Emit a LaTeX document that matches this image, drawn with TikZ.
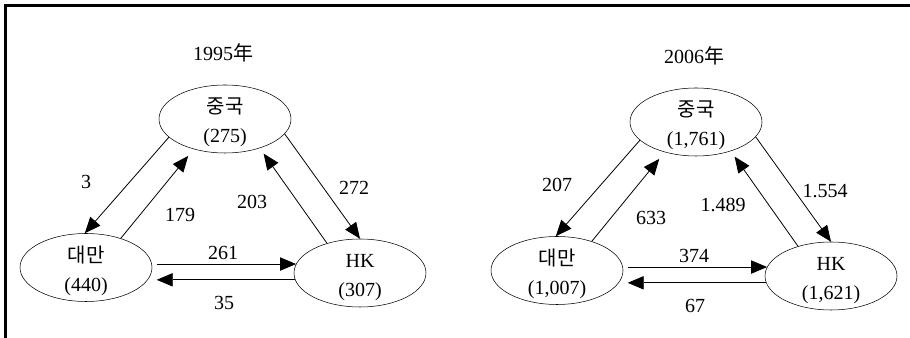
\documentclass[tikz,border=0pt]{standalone}
\usepackage{fontspec}
\setmainfont{Liberation Serif}
\newfontfamily\cjk{Noto Sans CJK KR}
\usetikzlibrary{shapes,arrows.meta}
\tikzset{
  country/.style={draw, ellipse, minimum width=99pt, minimum height=51pt, inner xsep=0pt, inner ysep=-3pt, align=center, font=\fontsize{15}{21.5}\selectfont},
  flow/.style={-{Triangle[length=12pt,width=10pt]}, line width=0.6pt},
  num/.style={font=\fontsize{15}{18}\selectfont}
}

\begin{document}
\begin{tikzpicture}[x=0.75pt,y=0.75pt]
\useasboundingbox (0,0) rectangle (910,338);

% Frame
\draw[line width=1.6pt] (5.5,0) -- (5.5,332.5) -- (915,332.5);

% 1995
\begin{scope}
\node[num] (yrA) at (223,285) {1995{\cjk 年}};
\node[country] (cnA) at (225,219) {{\cjk 중국}\rule{0pt}{17pt}\\(275)};
\node[country] (twA) at (86,70.5) {{\cjk 대만}\rule{0pt}{17pt}\\(440)};
\node[country] (hkA) at (360,65) {HK\rule{0pt}{17pt}\\(307)};

\draw[flow] (cnA.198) -- (twA.92);
\draw[flow, shorten >=6.5pt] (twA.40) -- (cnA.224);
\draw[flow] (cnA.346) -- (hkA.90);
\draw[flow, shorten >=5pt] (hkA.138) -- (cnA.320);
\draw[flow, shorten <=3.5pt] (twA.3) -- (twA.3 -| hkA.172);
\draw[flow, shorten >=6pt] (hkA.186) -- (hkA.186 -| twA.350);

\node[num] (ctA) at (86,156) {3};
\node[num] (tcA) at (180,123) {179};
\node[num] (hcA) at (252,136) {203};
\node[num] (chA) at (354,150) {272};
\node[num] (thA) at (223,85) {261};
\node[num] (htA) at (224,35) {35};
\end{scope}

% 2006
\begin{scope}[shift={(471,-3)}]
\node[num] (yrB) at (223,285) {2006{\cjk 年}};
\node[country] (cnB) at (225,219) {{\cjk 중국}\rule{0pt}{17pt}\\(1,761)};
\node[country] (twB) at (86,70.5) {{\cjk 대만}\rule{0pt}{17pt}\\(1,007)};
\node[country] (hkB) at (360,65) {HK\rule{0pt}{17pt}\\(1,621)};

\draw[flow] (cnB.198) -- (twB.92);
\draw[flow, shorten >=6.5pt] (twB.40) -- (cnB.224);
\draw[flow] (cnB.346) -- (hkB.90);
\draw[flow, shorten >=5pt] (hkB.138) -- (cnB.320);
\draw[flow, shorten <=3.5pt] (twB.3) -- (twB.3 -| hkB.172);
\draw[flow, shorten >=6pt] (hkB.186) -- (hkB.186 -| twB.350);

\node[num] (ctB) at (86,156) {207};
\node[num] (tcB) at (180,123) {633};
\node[num] (hcB) at (252,136) {1.489};
\node[num] (chB) at (354,150) {1.554};
\node[num] (thB) at (223,85) {374};
\node[num] (htB) at (224,35) {67};
\end{scope}

\end{tikzpicture}
\end{document}
